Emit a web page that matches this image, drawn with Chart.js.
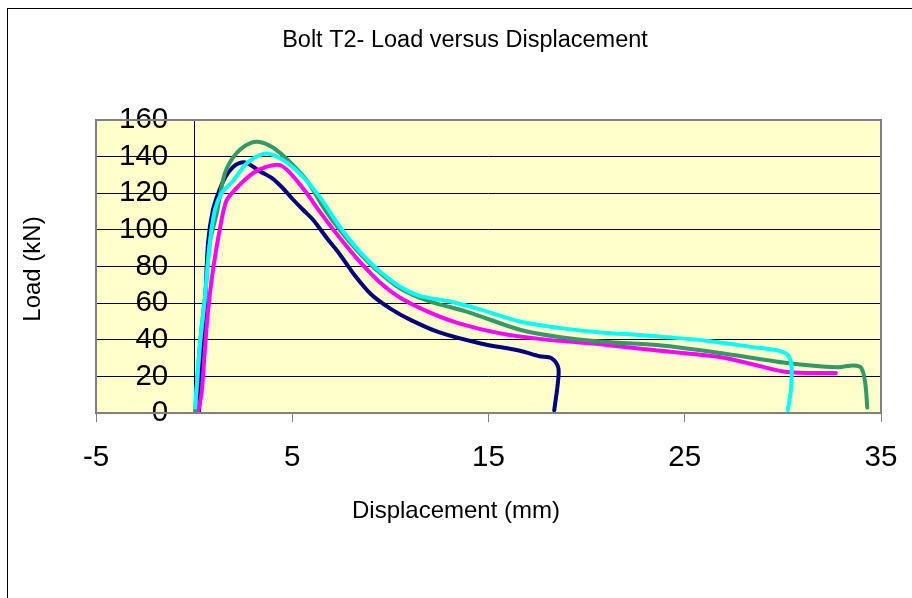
<!DOCTYPE html>
<html>
<head>
<meta charset="utf-8">
<title>Bolt T2- Load versus Displacement</title>
<script src="https://cdn.jsdelivr.net/npm/chart.js@4.4.1/dist/chart.umd.min.js"></script>
<style>
  html, body { margin: 0; padding: 0; background: #fff; overflow: hidden; }
  #wrap { position: relative; width: 912px; height: 598px; }
  #frame { position: absolute; left: 7px; top: 8px; width: 920px; height: 600px; border: 1px solid #000; }
  #chart { position: absolute; left: 0; top: 0; }
</style>
</head>
<body>
<div id="wrap">
  <div id="frame"></div>
  <canvas id="chart" width="912" height="598"></canvas>
</div>
<script>
const chartTitle = 'Bolt T2- Load versus Displacement';
const xTitle = 'Displacement (mm)';
const yTitle = 'Load (kN)';

const xTicks = [-5, 5, 15, 25, 35];
const yTicks = [0, 20, 40, 60, 80, 100, 120, 140, 160];

// four test curves, displacement (mm) and load (kN)
const navyX = [0.25, 0.4, 0.55, 0.71, 0.96, 1.3, 1.6, 1.95, 2.3, 2.7, 3.35, 4.0, 4.5, 5.0, 5.55, 6.1, 6.8, 7.4, 8.2, 9.0, 10.0, 11.0, 12.5, 14.6, 16.6, 17.6, 18.2, 18.55, 18.55, 18.35];
const navyY = [1, 30, 56, 93, 111, 122, 129, 134, 136.5, 136.5, 132, 128, 123, 117, 111, 105, 95, 87, 75, 65, 57, 51, 44, 38, 34, 31, 30, 25, 18, 1.5];

const magentaX = [0.2, 0.38, 0.55, 0.71, 0.96, 1.32, 1.65, 2.17, 3.0, 3.7, 4.38, 4.9, 5.74, 6.4, 7.4, 8.45, 9.5, 10.5, 12.0, 13.5, 15.6, 17.6, 20.7, 23.4, 26.8, 28.5, 30.2, 32.7];
const magentaY = [0.5, 11, 35, 56, 78, 101, 116, 123, 131, 134.5, 135.4, 131, 120, 110, 96, 82.5, 71, 63, 55, 49, 43.5, 40.5, 37.5, 34.4, 30.6, 26.5, 22.4, 21.8];

const greenX = [0.05, 0.3, 0.55, 0.8, 1.15, 1.57, 2.17, 2.93, 3.5, 4.2, 5.04, 5.74, 6.57, 7.2, 8.2, 9.2, 10.5, 12.0, 14.0, 16.6, 18.6, 20.7, 23.7, 26.8, 30.2, 32.8, 33.6, 34.0, 34.2, 34.3];
const greenY = [1, 38, 63, 93, 109, 131, 142, 147.6, 147.6, 143.6, 135.4, 127, 112.7, 103, 90, 79, 68, 61, 55, 45.5, 41.5, 39, 37, 32.8, 27.3, 25, 26, 24.6, 16, 3];

const cyanX = [0.05, 0.3, 0.55, 0.8, 1.06, 1.4, 2.0, 2.68, 3.5, 4.0, 4.7, 5.55, 6.4, 7.4, 8.45, 9.5, 10.5, 11.5, 13.0, 14.6, 16.6, 18.6, 20.7, 22.7, 24.0, 26.1, 28.5, 29.8, 30.3, 30.45, 30.4, 30.25];
const cyanY = [3, 38, 63, 93, 111, 120, 127, 136.4, 141.4, 141, 137, 129, 118, 102, 88, 77, 69, 64, 61, 56.5, 50, 46.5, 44, 42.6, 41.5, 39.5, 36, 34, 31, 24, 12, 1.6];

const FONT = 'Arial, "Liberation Sans", sans-serif';

function points(xs, ys) {
  return xs.map((x, i) => ({ x: x, y: ys[i] }));
}

function series(xs, ys, color) {
  return {
    data: points(xs, ys),
    borderColor: color,
    backgroundColor: color,
    borderWidth: 4,
    pointRadius: 0,
    showLine: true,
    tension: 0.3,
    borderCapStyle: 'round',
    borderJoinStyle: 'round'
  };
}

// yellow plot area with a grey frame
const plotFrame = {
  id: 'plotFrame',
  beforeDraw(chart) {
    const { ctx, chartArea: a } = chart;
    ctx.save();
    ctx.fillStyle = '#ffffcc';
    ctx.fillRect(a.left, a.top, a.right - a.left, a.bottom - a.top);
    ctx.restore();
  },
  afterDatasetsDraw(chart) {
    const { ctx, chartArea: a } = chart;
    ctx.save();
    ctx.strokeStyle = '#808080';
    ctx.lineWidth = 2;
    ctx.strokeRect(a.left, a.top, a.right - a.left, a.bottom - a.top);
    ctx.restore();
  }
};

// titles sit where the original put them, not centred on the plot
const titles = {
  id: 'titles',
  afterDraw(chart) {
    const ctx = chart.ctx;
    ctx.save();
    ctx.fillStyle = '#000';
    ctx.textAlign = 'center';
    ctx.textBaseline = 'alphabetic';
    ctx.font = '23.5px ' + FONT;
    ctx.fillText(chartTitle, 465, 47);
    ctx.font = '24px ' + FONT;
    ctx.fillText(xTitle, 456, 518);
    ctx.translate(33, 269);
    ctx.rotate(-Math.PI / 2);
    ctx.textBaseline = 'middle';
    ctx.fillText(yTitle, 0, 0);
    ctx.restore();
  }
};

new Chart(document.getElementById('chart'), {
  type: 'scatter',
  data: {
    datasets: [
      series(cyanX, cyanY, '#00ffff'),
      series(greenX, greenY, '#339966'),
      series(magentaX, magentaY, '#ff00ff'),
      series(navyX, navyY, '#000080')
    ]
  },
  options: {
    responsive: false,
    animation: false,
    layout: { padding: { left: 50, right: 31, top: 120, bottom: 104 } },
    plugins: {
      legend: { display: false },
      title: { display: false },
      tooltip: { enabled: false }
    },
    scales: {
      x: {
        type: 'linear',
        position: 'bottom',
        min: -5,
        max: 35,
        afterBuildTicks: s => { s.ticks = xTicks.map(v => ({ value: v })); },
        grid: { drawOnChartArea: false, tickLength: 9, color: '#808080', lineWidth: 1 },
        border: { display: true, color: '#808080', width: 2 },
        ticks: { color: '#000', font: { family: FONT, size: 29.5, lineHeight: 1.49 }, padding: 14, maxRotation: 0, autoSkip: false }
      },
      // axis line, tick marks and gridlines cross at x = 0
      y: {
        type: 'linear',
        position: { x: 0 },
        min: 0,
        max: 160,
        afterBuildTicks: s => { s.ticks = yTicks.map(v => ({ value: v })); },
        grid: { color: '#000', lineWidth: 1, tickLength: 9 },
        border: { display: true, color: '#000', width: 1 },
        ticks: { display: false }
      },
      // numbers only, drawn inside the plot area
      yLabels: {
        type: 'linear',
        position: 'left',
        min: 0,
        max: 160,
        afterBuildTicks: s => { s.ticks = yTicks.map(v => ({ value: v })); },
        grid: { display: false, drawTicks: false },
        border: { display: false },
        ticks: { color: '#000', font: { family: FONT, size: 29.5 }, mirror: true, crossAlign: 'far', padding: 23, autoSkip: false }
      }
    }
  },
  plugins: [plotFrame, titles]
});
</script>
</body>
</html>
